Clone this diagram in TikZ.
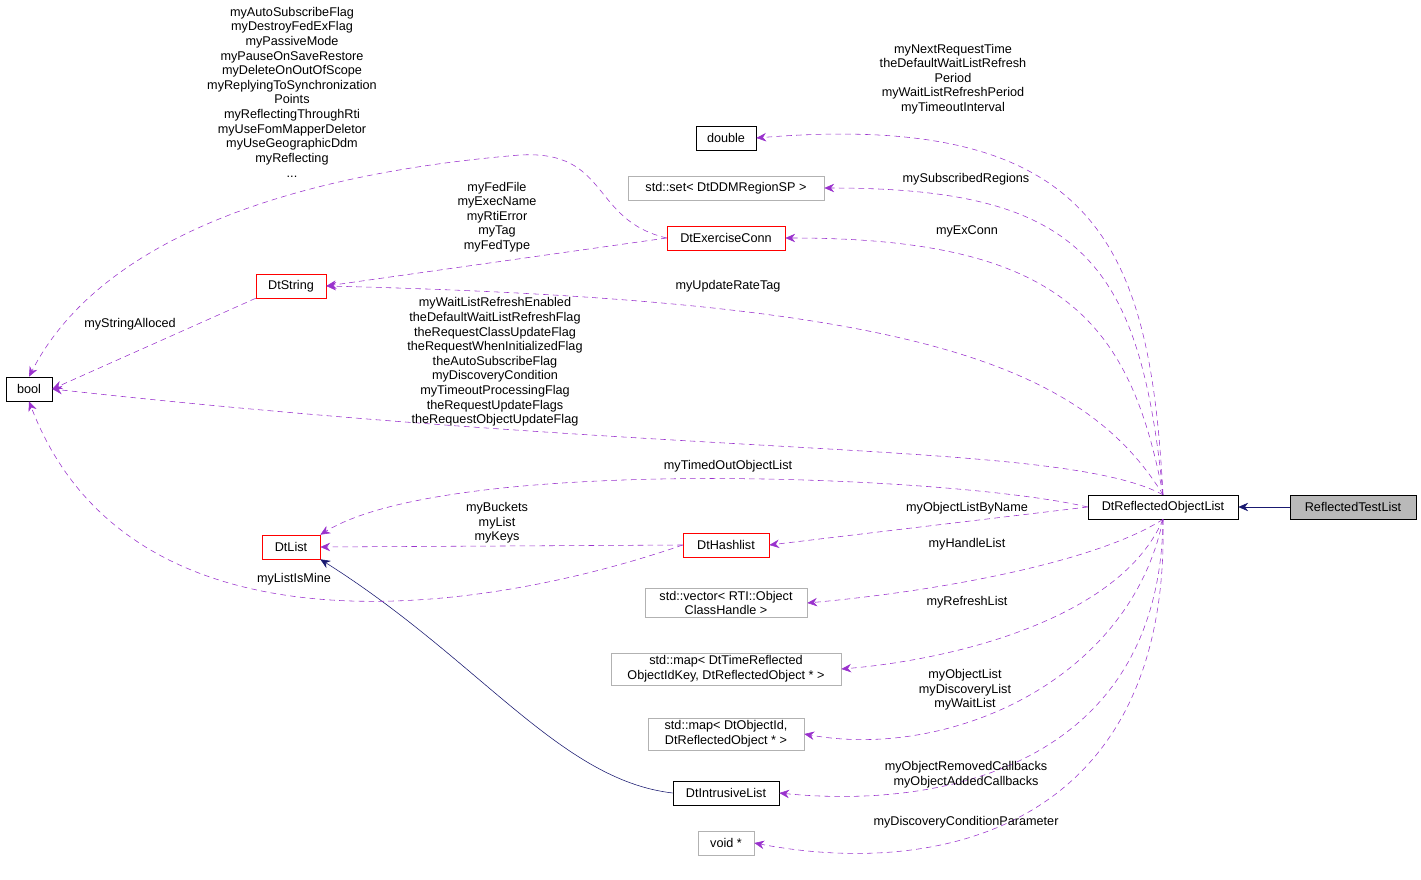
\documentclass[tikz,border=0pt]{standalone}
\usepackage{fontspec}
\setmainfont{Liberation Sans}
\usetikzlibrary{arrows.meta}
\definecolor{edgepurple}{HTML}{9A32CD}
\definecolor{edgenavy}{HTML}{191970}
\tikzstyle{cls}=[draw, inner sep=2pt, minimum height=0.6cm, align=center, font=\fontsize{9}{10.4}\selectfont]
\tikzstyle{blackcls}=[cls, draw=black]
\tikzstyle{redcls}=[cls, draw=red]
\tikzstyle{graycls}=[cls, draw=gray!60]
\tikzstyle{lbl}=[align=center, font=\fontsize{9}{10.4}\selectfont, inner sep=0pt]
\tikzstyle{use}=[draw=edgepurple, dash pattern=on 4pt off 3pt, -{Stealth[length=7pt,width=6pt]}, fill=none]
\tikzstyle{inherit}=[draw=edgenavy, -{Stealth[length=7pt,width=6pt]}]

\begin{document}
\begin{tikzpicture}[x=0.025cm, y=-0.025cm]
        \useasboundingbox (0,0) rectangle (1421,880);
        % classes
        \node[blackcls, fill=gray!55, minimum width=3.15cm] (RTL) at (1353,507) {ReflectedTestList};
        \node[blackcls, minimum width=3.75cm] (DROL) at (1163,507) {DtReflectedObjectList};
        \node[blackcls, minimum width=1.5cm]  (Dbl) at (726,138) {double};
        \node[graycls, minimum width=4.9cm]   (Set) at (726,188) {std::set< DtDDMRegionSP >};
        \node[redcls, minimum width=2.95cm]   (ExC) at (726,238) {DtExerciseConn};
        \node[redcls, minimum width=1.75cm]   (Str) at (291,286) {DtString};
        \node[blackcls, minimum width=1.15cm] (Bool) at (29,389) {bool};
        \node[redcls, minimum width=1.45cm]   (Lst) at (291,547) {DtList};
        \node[redcls, minimum width=2.15cm]   (Hash) at (726,545) {DtHashlist};
        \node[graycls, minimum width=4.05cm]  (Vec) at (726,603) {std::vector< RTI::Object\\ClassHandle >};
        \node[graycls, minimum width=5.75cm]  (MapA) at (726,669) {std::map< DtTimeReflected\\ObjectIdKey, DtReflectedObject * >};
        \node[graycls, minimum width=3.9cm]   (MapB) at (726,734) {std::map< DtObjectId,\\DtReflectedObject * >};
        \node[blackcls, minimum width=2.65cm] (Intr) at (726,793) {DtIntrusiveList};
        \node[graycls, minimum width=1.4cm]   (Void) at (726,843) {void *};
        % inheritance
        \draw[inherit] (RTL) -- (DROL);
        \draw[inherit] (Intr.west) .. controls (560,780) and (480,660) .. (Lst.south east);
        % members of DtReflectedObjectList
        \draw[use] (DROL.north) .. controls (1150,250) and (1100,110) .. (Dbl.east);
        \draw[use] (DROL.north) .. controls (1140,260) and (1080,188) .. (Set.east);
        \draw[use] (DROL.north) .. controls (1130,320) and (1060,238) .. (ExC.east);
        \draw[use] (DROL.north) .. controls (1080,360) and (900,300) .. (Str.east);
        \draw[use] (DROL.north) .. controls (1060,440) and (700,460) .. (Bool.east);
        \draw[use] (DROL.west) .. controls (950,475) and (450,455) .. (Lst.north east);
        \draw[use] (DROL.west) -- (Hash.east);
        \draw[use] (DROL.south) .. controls (1100,560) and (950,590) .. (Vec.east);
        \draw[use] (DROL.south) .. controls (1120,620) and (950,660) .. (MapA.east);
        \draw[use] (DROL.south) .. controls (1130,680) and (950,760) .. (MapB.east);
        \draw[use] (DROL.south) .. controls (1160,760) and (950,810) .. (Intr.east);
        \draw[use] (DROL.south) .. controls (1170,820) and (950,880) .. (Void.east);
        % other members
        \draw[use] (ExC.west) .. controls (590,220) and (610,150) .. (520,155) .. controls (400,165) and (120,200) .. (Bool.north);
        \draw[use] (ExC.west) -- (Str.east);
        \draw[use] (Str.south west) -- (Bool.east);
        \draw[use] (Hash.west) -- (Lst.east);
        \draw[use] (Hash.west) .. controls (480,615) and (130,665) .. (Bool.south);
        % labels
        \node[lbl] (lDbl) at (953,79) {myNextRequestTime\\theDefaultWaitListRefresh\\Period\\myWaitListRefreshPeriod\\myTimeoutInterval};
        \node[lbl] (lSet) at (966,179) {mySubscribedRegions};
        \node[lbl] (lExC) at (967,231) {myExConn};
        \node[lbl] (lStr) at (728,286) {myUpdateRateTag};
        \node[lbl] (lBool) at (495,362) {myWaitListRefreshEnabled\\theDefaultWaitListRefreshFlag\\theRequestClassUpdateFlag\\theRequestWhenInitializedFlag\\theAutoSubscribeFlag\\myDiscoveryCondition\\myTimeoutProcessingFlag\\theRequestUpdateFlags\\theRequestObjectUpdateFlag};
        \node[lbl] (lLst) at (728,466) {myTimedOutObjectList};
        \node[lbl] (lHash) at (967,508) {myObjectListByName};
        \node[lbl] (lVec) at (967,544) {myHandleList};
        \node[lbl] (lMapA) at (967,602) {myRefreshList};
        \node[lbl] (lMapB) at (965,690) {myObjectList\\myDiscoveryList\\myWaitList};
        \node[lbl] (lIntr) at (966,775) {myObjectRemovedCallbacks\\myObjectAddedCallbacks};
        \node[lbl] (lVoid) at (966,822) {myDiscoveryConditionParameter};
        \node[lbl] (lExBool) at (292,92) {myAutoSubscribeFlag\\myDestroyFedExFlag\\myPassiveMode\\myPauseOnSaveRestore\\myDeleteOnOutOfScope\\myReplyingToSynchronization\\Points\\myReflectingThroughRti\\myUseFomMapperDeletor\\myUseGeographicDdm\\myReflecting\\...};
        \node[lbl] (lExStr) at (497,217) {myFedFile\\myExecName\\myRtiError\\myTag\\myFedType};
        \node[lbl] (lStrBool) at (130,324) {myStringAlloced};
        \node[lbl] (lHashLst) at (497,523) {myBuckets\\myList\\myKeys};
        \node[lbl] (lHashBool) at (294,579) {myListIsMine};
    \end{tikzpicture}
\end{document}
